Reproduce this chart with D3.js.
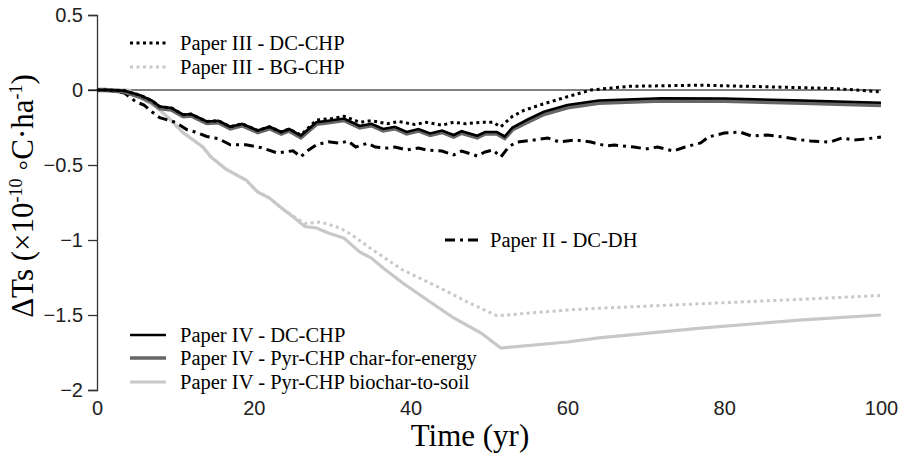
<!DOCTYPE html>
<html lang="en">
<head>
  <meta charset="UTF-8" />
  <title>Temperature response</title>
  <script src="https://d3js.org/d3.v7.min.js"></script>
  <style>
    body { margin: 0; background: #fff; }
    svg { display: block; font-family: "Liberation Serif", "Times New Roman", serif; }
    .tick text { font-size: 20px; fill: #222; }
    .legend text { font-size: 20.5px; fill: #000; }
    .title { font-size: 31px; fill: #000; }
  </style>
</head>
<body>
<svg width="904" height="453"></svg>
<script>
// years and values
const yrA = [0,1,3.5,5.5,7,8,9.5,11,12,14,15.5,17,18.5,20.5,22,23.5,24.5,26,28,29.5,31.5,33.5,35,36.5,38,39.5,41,42.5,44,45.5,46.5,48.5,49.5,51,52,53,55,57,60,64,72,80,90,100];
const dc4 = [0,0,-0.005,-0.035,-0.07,-0.11,-0.12,-0.165,-0.16,-0.21,-0.205,-0.245,-0.225,-0.27,-0.245,-0.28,-0.26,-0.305,-0.215,-0.205,-0.19,-0.24,-0.225,-0.26,-0.245,-0.28,-0.26,-0.29,-0.27,-0.3,-0.275,-0.305,-0.28,-0.28,-0.31,-0.25,-0.195,-0.145,-0.1,-0.07,-0.055,-0.057,-0.07,-0.085];
const pyr4e = [0,0,-0.01,-0.045,-0.08,-0.12,-0.13,-0.175,-0.17,-0.22,-0.215,-0.255,-0.235,-0.28,-0.255,-0.29,-0.27,-0.315,-0.225,-0.215,-0.2,-0.25,-0.235,-0.27,-0.255,-0.29,-0.27,-0.3,-0.28,-0.31,-0.285,-0.315,-0.29,-0.29,-0.32,-0.262,-0.21,-0.16,-0.115,-0.085,-0.07,-0.072,-0.085,-0.1];

const yr3 = [0,1,3.5,5.5,7,8,9.5,11,12,14,15.5,17,18.5,20.5,22,23.5,24.5,26,28,30,31.5,33.5,35,37,38.5,40.5,42,44,45.5,47,49,50.5,51.5,53,54.5,56.5,60,63,68,77,85,94,100];
const dc3 = [0,0,-0.005,-0.035,-0.07,-0.11,-0.12,-0.165,-0.16,-0.21,-0.205,-0.245,-0.225,-0.27,-0.245,-0.28,-0.26,-0.3,-0.2,-0.19,-0.175,-0.215,-0.205,-0.225,-0.21,-0.23,-0.215,-0.235,-0.215,-0.225,-0.215,-0.215,-0.245,-0.175,-0.135,-0.1,-0.045,0,0.025,0.032,0.022,0.01,-0.012];

const yr2 = [0,1,3.5,5,6,7,8,10,11.5,12.5,14,15.5,17,19,21,23,25,26,27,28,29.5,31,32,33,34.5,35.5,37,38,39.5,41,42,44,45.5,46.5,48.5,49.5,50.5,51.5,52.5,53.5,55.5,57.5,59,61,63,65,66,68.5,70,71.5,73.5,75,77,78,80,82,83.5,85.5,87.5,89,91,93.5,95,96.5,98,100];
const dh2 = [0,0,-0.02,-0.08,-0.1,-0.145,-0.185,-0.215,-0.265,-0.28,-0.31,-0.325,-0.365,-0.365,-0.385,-0.42,-0.405,-0.445,-0.4,-0.365,-0.345,-0.355,-0.34,-0.38,-0.355,-0.38,-0.387,-0.38,-0.4,-0.387,-0.4,-0.407,-0.433,-0.407,-0.44,-0.413,-0.4,-0.447,-0.38,-0.347,-0.335,-0.32,-0.347,-0.333,-0.347,-0.373,-0.367,-0.38,-0.393,-0.38,-0.407,-0.38,-0.353,-0.313,-0.287,-0.28,-0.307,-0.3,-0.313,-0.327,-0.34,-0.347,-0.32,-0.333,-0.327,-0.313];

const yrB = [0,1,4,5.5,7.5,9,11,13.5,14.5,16.5,19,20.5,22,23.5,25,26.5,28,29.5,31.5,33.5,35,36.5,39,42.5,45.5,49,51.5,60,64,77,90,100];
const bio4 = [0,0,0,-0.05,-0.11,-0.18,-0.285,-0.38,-0.445,-0.53,-0.6,-0.68,-0.72,-0.785,-0.845,-0.91,-0.92,-0.953,-0.987,-1.08,-1.12,-1.187,-1.287,-1.413,-1.52,-1.62,-1.72,-1.68,-1.653,-1.587,-1.533,-1.5];

const yrG = [0,1,4,5.5,7.5,9,11,13.5,14.5,16.5,19,20.5,22,23.5,25,26.5,28.5,31,32.5,35,39,43.5,47.5,51,60,64,77,90,100];
const bg3 = [0,0,0,-0.05,-0.11,-0.18,-0.285,-0.38,-0.445,-0.53,-0.6,-0.68,-0.72,-0.785,-0.84,-0.89,-0.88,-0.92,-0.965,-1.06,-1.2,-1.313,-1.42,-1.505,-1.467,-1.455,-1.425,-1.395,-1.37];

const xTicks = [0,20,40,60,80,100];
const yTicks = [0.5,0,-0.5,-1,-1.5,-2];
const yTickLabels = ["0.5","0","\u22120.5","\u22121","\u22121.5","\u22122"];

const svg = d3.select("svg");
const x = d3.scaleLinear().domain([0,100]).range([97,881]);
const y = d3.scaleLinear().domain([-2,0.5]).range([390,15]);

// y axis
const yAxis = svg.append("g")
  .attr("transform", "translate(97,0)")
  .call(d3.axisLeft(y).tickValues(yTicks).tickSize(9).tickPadding(5)
    .tickFormat((d,i) => yTickLabels[i]));
yAxis.select(".domain").attr("stroke", "#333").attr("stroke-width", 1.3);
yAxis.selectAll(".tick line").attr("stroke", "#333").attr("stroke-width", 1.3);
yAxis.selectAll(".tick text").attr("font-family", null).attr("font-size", null);

// x labels only
const xAxis = svg.append("g")
  .attr("transform", "translate(0,398)")
  .call(d3.axisBottom(x).tickValues(xTicks).tickSize(0).tickPadding(3));
xAxis.select(".domain").remove();
xAxis.selectAll(".tick text").attr("font-family", null).attr("font-size", null);

// zero line
svg.append("line")
  .attr("x1", 88).attr("x2", x(100))
  .attr("y1", y(0)).attr("y2", y(0))
  .attr("stroke", "#000").attr("stroke-width", 1);

const line = d3.line().x(d => x(d[0])).y(d => y(d[1]));
const pts = (t, v) => t.map((d, i) => [d, v[i]]);

const series = [
  { name: "Paper IV - Pyr-CHP biochar-to-soil", data: pts(yrB, bio4), color: "#c8c8c8", w: 3.2, dash: null },
  { name: "Paper III - BG-CHP", data: pts(yrG, bg3), color: "#c8c8c8", w: 3, dash: "3,3.5" },
  { name: "Paper II - DC-DH", data: pts(yr2, dh2), color: "#000", w: 3, dash: "10,5,3,5" },
  { name: "Paper IV - Pyr-CHP char-for-energy", data: pts(yrA, pyr4e), color: "#666", w: 4.5, dash: null },
  { name: "Paper IV - DC-CHP", data: pts(yrA, dc4), color: "#000", w: 2.6, dash: null },
  { name: "Paper III - DC-CHP", data: pts(yr3, dc3), color: "#000", w: 3, dash: "3,3.5" }
];

svg.append("g").selectAll("path")
  .data(series)
  .join("path")
  .attr("fill", "none")
  .attr("stroke", d => d.color)
  .attr("stroke-width", d => d.w)
  .attr("stroke-dasharray", d => d.dash)
  .attr("d", d => line(d.data));

// legends
const legendItems = [
  { s: 5, x: 130, y: 43 },
  { s: 1, x: 130, y: 67 },
  { s: 2, x: 445, y: 240 },
  { s: 4, x: 130, y: 335 },
  { s: 3, x: 130, y: 358 },
  { s: 0, x: 130, y: 382 }
];
const lg = svg.append("g").attr("class", "legend")
  .selectAll("g").data(legendItems).join("g")
  .attr("transform", d => `translate(${d.x},${d.y})`);
lg.append("line")
  .attr("x1", 0).attr("x2", d => d.s === 2 ? 33 : 36)
  .attr("stroke", d => series[d.s].color)
  .attr("stroke-width", d => Math.min(series[d.s].w, 3.5))
  .attr("stroke-dasharray", d => series[d.s].dash);
lg.append("text")
  .attr("x", d => d.s === 2 ? 45 : 50)
  .attr("dy", "0.33em")
  .text(d => series[d.s].name);

// axis titles
svg.append("text").attr("class", "title")
  .attr("x", 470).attr("y", 446).attr("text-anchor", "middle")
  .text("Time (yr)");

const yt = svg.append("text").attr("class", "title")
  .attr("transform", "translate(33,196) rotate(-90)")
  .attr("text-anchor", "middle");
yt.append("tspan").text("\u0394Ts (\u00d710");
yt.append("tspan").attr("font-size", "18px").attr("dy", "-11").text("-10");
yt.append("tspan").attr("dy", "11").text(" \u25e6C\u00b7ha");
yt.append("tspan").attr("font-size", "18px").attr("dy", "-11").text("-1");
yt.append("tspan").attr("dy", "11").text(")");
</script>
</body>
</html>
